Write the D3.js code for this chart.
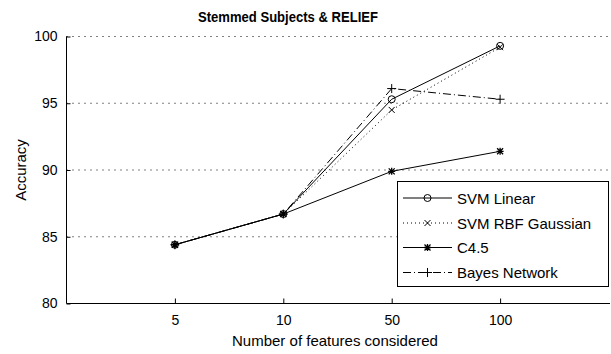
<!DOCTYPE html>
<html><head><meta charset="utf-8">
<script src="https://cdn.jsdelivr.net/npm/d3@7"></script>
<style>body{margin:0;background:#fff}svg{display:block}text{font-family:"Liberation Sans",Arial,sans-serif;fill:#000}</style>
</head><body><svg id="c" width="611" height="354"></svg>
<script>
const categories = ["5","10","50","100"];
const yTicks = [80,85,90,95,100];
const svmLinear = [84.4, 86.7, 95.3, 99.3];
const svmRbf = [84.4, 86.7, 94.5, 99.2];
const c45 = [84.4, 86.7, 89.9, 91.4];
const bayes = [84.4, 86.7, 96.1, 95.3];
const seriesNames = ["SVM Linear","SVM RBF Gaussian","C4.5","Bayes Network"];

const series = [
  {name: seriesNames[0], values: svmLinear, dash: null, marker: "o"},
  {name: seriesNames[1], values: svmRbf, dash: "1,3", marker: "x"},
  {name: seriesNames[2], values: c45, dash: null, marker: "*"},
  {name: seriesNames[3], values: bayes, dash: "8,3,1,3", marker: "+"}
];

const svg = d3.select("#c");
const x = d3.scaleLinear().domain([0, categories.length + 1]).range([66.5, 608.5]);
const y = d3.scaleLinear().domain([80, 100]).range([303.5, 36.5]);

// grid
svg.append("g").selectAll("line").data(yTicks.filter(d => d > 80)).join("line")
  .attr("x1", x(0)).attr("x2", 611).attr("y1", d => y(d)).attr("y2", d => y(d))
  .attr("stroke", "#000").attr("stroke-width", 1).attr("stroke-dasharray", "1,5");

// axes
const yAxis = d3.axisLeft(y).tickValues(yTicks).tickSize(-4).tickPadding(9).tickFormat(d3.format("d"));
const gy = svg.append("g").attr("transform", `translate(${x(0)},0)`).call(yAxis);
gy.select(".domain").attr("d", `M0,${y(80)}V${y(100)}`);
const xAxis = d3.axisBottom(x).tickValues(categories.map((c, i) => i + 1))
  .tickFormat((d, i) => categories[i]).tickSize(-5).tickPadding(12);
const gx = svg.append("g").attr("transform", `translate(0,${y(80)})`).call(xAxis);
gx.select(".domain").attr("d", `M${x(0)},0H610`);
svg.selectAll(".tick text").style("font-size", "14px");
svg.selectAll(".domain, .tick line").attr("stroke", "#000");

// labels
svg.append("text").attr("x", 288).attr("y", 22).attr("text-anchor", "middle")
  .attr("textLength", 180).attr("lengthAdjust", "spacingAndGlyphs")
  .style("font-size", "15px").style("font-weight", "bold").text("Stemmed Subjects & RELIEF");
svg.append("text").attr("x", 335).attr("y", 346).attr("text-anchor", "middle")
  .style("font-size", "15px").text("Number of features considered");
svg.append("text").attr("transform", "translate(26,170) rotate(-90)").attr("text-anchor", "middle")
  .style("font-size", "15px").text("Accuracy");

function marker(g, type, cx, cy) {
  const s = 3.5;
  if (type === "o") {
    g.append("circle").attr("cx", cx).attr("cy", cy).attr("r", 3.5).attr("fill", "none").attr("stroke", "#000");
  } else if (type === "x") {
    g.append("path").attr("d", `M${cx-3},${cy-3}L${cx+3},${cy+3}M${cx-3},${cy+3}L${cx+3},${cy-3}`).attr("stroke", "#000");
  } else if (type === "+") {
    g.append("path").attr("d", `M${cx-4.5},${cy}H${cx+4.5}M${cx},${cy-4.5}V${cy+4.5}`).attr("stroke", "#000");
  } else if (type === "*") {
    g.append("path").attr("d", `M${cx-s},${cy}H${cx+s}M${cx},${cy-s}V${cy+s}M${cx-3},${cy-3}L${cx+3},${cy+3}M${cx-3},${cy+3}L${cx+3},${cy-3}`)
      .attr("stroke", "#000").attr("stroke-width", 1.3);
  }
}

const line = d3.line().x((d, i) => x(i + 1)).y(d => y(d));
series.forEach(s => {
  const g = svg.append("g");
  g.append("path").attr("d", line(s.values)).attr("fill", "none").attr("stroke", "#000")
    .attr("stroke-width", 1).attr("stroke-dasharray", s.dash);
  s.values.forEach((v, i) => marker(g, s.marker, x(i + 1), y(v)));
});

// legend
const lg = svg.append("g");
lg.append("rect").attr("x", 397.5).attr("y", 181.5).attr("width", 211).attr("height", 105)
  .attr("fill", "#fff").attr("stroke", "#000");
const rowY = [198, 223, 247.5, 272.5];
series.forEach((s, i) => {
  lg.append("line").attr("x1", 403).attr("x2", 452).attr("y1", rowY[i]).attr("y2", rowY[i])
    .attr("stroke", "#000").attr("stroke-dasharray", s.dash);
  marker(lg, s.marker, 427.5, rowY[i]);
  lg.append("text").attr("x", 457).attr("y", rowY[i] + 5.5).style("font-size", "15px").text(s.name);
});
</script></body></html>
